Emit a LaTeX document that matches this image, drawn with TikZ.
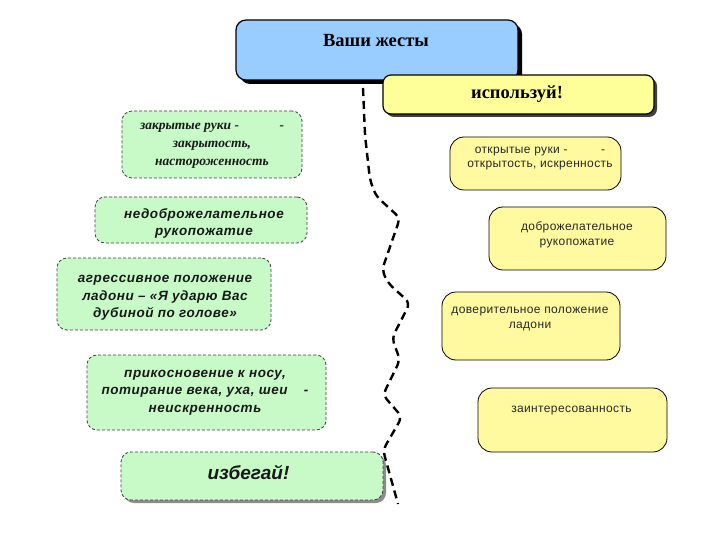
\documentclass[tikz,border=0pt]{standalone}
\usepackage{fontspec}
\setmainfont{Liberation Serif}
\newfontfamily\arialf{Liberation Sans}
\newfontfamily\arialg{Liberation Sans}[LetterSpace=4]
\newfontfamily\arialr{Liberation Sans}[LetterSpace=3]
\usetikzlibrary{shadows}
\definecolor{bluefill}{RGB}{153,204,255}
\definecolor{yelfill}{RGB}{255,255,153}
\definecolor{rightfill}{RGB}{255,250,160}
\definecolor{greenfill}{RGB}{200,250,200}
\definecolor{txtgray}{RGB}{40,40,40}
\tikzset{
  hdrbox/.style={draw=black, line width=1.2pt, rounded corners=10pt, inner sep=0pt},
  greenbox/.style={draw=black!75, dashed, dash pattern=on 3pt off 2pt, line width=0.8pt, fill=greenfill, rounded corners=10pt, inner sep=0pt},
  rightbox/.style={draw=black, line width=0.8pt, fill=rightfill, rounded corners=14pt, inner sep=0pt},
  hdrtxt/.style={font=\fontsize{18.5}{21}\selectfont\bfseries, inner sep=0pt},
  gtxt/.style={font=\arialg\fontsize{13.5}{17.5}\selectfont\bfseries\itshape, align=center, inner sep=0pt, text=black!90},
  gstxt/.style={font=\fontsize{13.5}{18}\selectfont\bfseries\itshape, align=center, inner sep=0pt, text=black!90},
  rtxt/.style={font=\arialr\fontsize{12}{14.5}\selectfont, align=center, inner sep=0pt, text=txtgray},
  wiggle/.style={line width=2.4pt, dash pattern=on 8pt off 5pt, rounded corners=6pt}
}
\begin{document}
\begin{tikzpicture}[x=1pt,y=-1pt]
\useasboundingbox (0,0) rectangle (720,540);
% header boxes
\node[hdrbox, fill=bluefill, minimum width=282pt, minimum height=60pt,
  drop shadow={shadow xshift=4pt, shadow yshift=-4pt, fill=black, opacity=1}] (blue) at (377,50) {};
\node[hdrtxt] (bluet) at (376,41) {Ваши жесты};
\node[hdrbox, fill=yelfill, rounded corners=8pt, minimum width=271pt, minimum height=39pt,
  drop shadow={shadow xshift=3pt, shadow yshift=-3pt, fill=black!85!yellow, opacity=1}] (yel) at (518.5,94.5) {};
\node[hdrtxt] (yelt) at (517,94) {используй!};
% green boxes
\node[greenbox, minimum width=180pt, minimum height=67pt] (g1) at (212,144.5) {};
\node[gstxt] (g1t) at (212,146) {закрытые руки -\hspace{3em}-\\закрытость,\\настороженность};
\node[greenbox, minimum width=212pt, minimum height=46pt] (g2) at (201,220) {};
\node[gtxt] (g2t) at (204,223.5) {недоброжелательное\\рукопожатие};
\node[greenbox, minimum width=214pt, minimum height=72pt] (g3) at (164,294) {};
\node[gtxt] (g3t) at (165,298) {агрессивное положение\\ладони – «Я ударю Вас\\дубиной по голове»};
\node[greenbox, minimum width=239pt, minimum height=75pt] (g4) at (206.5,392.5) {};
\node[gtxt] (g4t) at (205,392.5) {прикосновение к носу,\\потирание века, уха, шеи\hspace{1.2em}-\\неискренность};
\node[greenbox, minimum width=262pt, minimum height=48pt,
  drop shadow={shadow xshift=3pt, shadow yshift=-3pt, fill=black!45, opacity=1}] (g5) at (252,476) {};
\node[gtxt, font=\arialf\fontsize{19}{22}\selectfont\bfseries\itshape] (g5t) at (248.5,472) {избегай!};
% right boxes
\node[rightbox, minimum width=171pt, minimum height=53pt] (r1) at (535.5,163.5) {};
\node[rtxt] (r1t) at (540,158.5) {открытые руки -\hspace{2.8em}-\\открытость, искренность};
\node[rightbox, minimum width=177pt, minimum height=63pt] (r2) at (577.5,238.5) {};
\node[rtxt] (r2t) at (577,235) {доброжелательное\\рукопожатие};
\node[rightbox, minimum width=178pt, minimum height=68pt] (r3) at (531,326) {};
\node[rtxt] (r3t) at (530,319) {доверительное положение\\ладони};
\node[rightbox, minimum width=189pt, minimum height=64pt] (r4) at (572.5,420) {};
\node[rtxt] (r4t) at (571.5,411) {заинтересованность};
% dividing wiggly dashed line
\coordinate (w0) at (363,88);
\coordinate (w9) at (398,504);
\draw[wiggle] (w0) -- (365,135) -- (370,180) -- (376,196) -- (400,218) -- (382,270)
  -- (388,283) -- (410,303) -- (392,338) -- (400,360) -- (383,395) -- (402,417)
  -- (383,450) -- (w9);
\end{tikzpicture}
\end{document}
